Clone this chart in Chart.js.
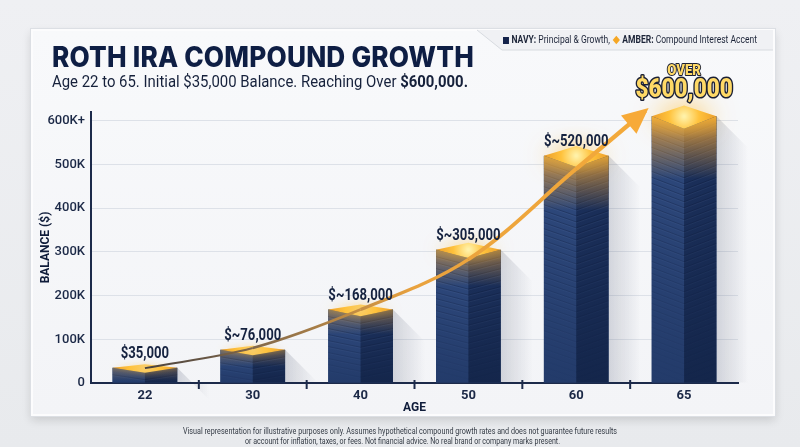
<!DOCTYPE html>
<html><head><meta charset="utf-8">
<script src="https://cdn.jsdelivr.net/npm/chart.js@4.4.1/dist/chart.umd.min.js"></script>
<style>
html,body{margin:0;padding:0;}
body{width:800px;height:447px;overflow:hidden;position:relative;background:linear-gradient(180deg,#eff0f3 0%,#e8eaed 100%);font-family:Roboto,"Noto Sans",sans-serif;}
.card{position:absolute;left:31px;top:29px;width:744px;height:387px;background:linear-gradient(180deg,#f8f9fb 0%,#f3f4f7 100%);border:2px solid #fcfcfd;box-sizing:border-box;box-shadow:0 0 0 1px #dcdfe4,0 4px 9px rgba(0,0,0,.14);}
svg.tab{position:absolute;left:0;top:0;z-index:1;}
canvas#c{position:absolute;left:0;top:0;z-index:2;}
.t{position:absolute;white-space:nowrap;display:inline-block;transform-origin:0 0;z-index:3;}
#title{left:52px;top:43px;font:800 28px/28px Inter,Roboto,sans-serif;color:#0e1e44;letter-spacing:0.2px;}
#sub{left:52px;top:73px;font:400 17px/17px Roboto,sans-serif;color:#16213b;}
#sub b{font-weight:700;}
#legend{left:503px;top:34px;font:400 10px/12px Roboto,sans-serif;color:#1c2438;}
#legend b{font-weight:700;}
.sq{display:inline-block;width:7px;height:7px;background:#13224a;margin-right:3px;vertical-align:-0.5px;}
.dia{display:inline-block;width:6px;height:6px;background:#f5a623;transform:rotate(45deg);margin:0 4px 0 2px;vertical-align:0px;}
.foot{font:400 9.5px/11px Roboto,sans-serif;color:#333a44;}
#f1{left:183px;top:425px;}
#f2{left:245px;top:434.5px;}
</style></head>
<body>
<div class="card"></div>
<svg class="tab" width="800" height="447"><polygon points="477,30 773,30 773,50 502,50" fill="#f0f1f4"/><polyline points="477,30 502,50 773,50" fill="none" stroke="#d8dbe0" stroke-width="1"/></svg>
<canvas id="c" width="800" height="447"></canvas>
<div class="t" id="title" data-w="422">ROTH IRA COMPOUND GROWTH</div>
<div class="t" id="sub" data-w="416">Age 22 to 65. Initial $35,000 Balance. Reaching Over <b>$600,000.</b></div>
<div class="t" id="legend" data-w="254"><span class="sq"></span><b>NAVY:</b> Principal &amp; Growth, <span class="dia"></span><b>AMBER:</b> Compound Interest Accent</div>
<div class="t foot" id="f1" data-w="434">Visual representation for illustrative purposes only. Assumes hypothetical compound growth rates and does not guarantee future results</div>
<div class="t foot" id="f2" data-w="315">or account for inflation, taxes, or fees. Not financial advice. No real brand or company marks present.</div>
<script>
// ---- data ----
const ages = ['22', '30', '40', '50', '60', '65'];
const balances = [35000, 76000, 168000, 305000, 520000, 610000];
const balanceLabels = ['$35,000', '$~76,000', '$~168,000', '$~305,000', '$~520,000', ''];
const trendPositions = [0, 1, 2, 3, 4, 4.65];
const trendValues = [34000, 80000, 168000, 283000, 490000, 625000];
const yTicks = [0, 100000, 200000, 300000, 400000, 500000, 600000];
const yTickLabels = ['0', '100K', '200K', '300K', '400K', '500K', '600K+'];
const yMax = 620000;
const highlightLine1 = 'OVER';
const highlightLine2 = '$600,000';
const xTitle = 'AGE';
const yTitle = 'BALANCE ($)';

function fitTexts(){
  document.querySelectorAll('[data-w]').forEach(el=>{
    el.style.transform='none';
    const w = el.getBoundingClientRect().width;
    el.style.transform = 'scaleX(' + (+el.dataset.w / w) + ')';
  });
}

function scaledText(ctx, text, x, y, sx, stroke){
  ctx.save();
  ctx.translate(x, y);
  ctx.scale(sx, 1);
  if (stroke) ctx.strokeText(text, 0, 0);
  ctx.fillText(text, 0, 0);
  ctx.restore();
}

const navy = '#1c2a4a';

const boxPlugin = {
  id: 'boxes',
  beforeDatasetsDraw(chart){
    const ctx = chart.ctx;
    const meta = chart.getDatasetMeta(0);
    meta.data.forEach(bar=>{
      const xr = bar.x + bar.width/2, y = bar.y, base = bar.base;
      const g = ctx.createLinearGradient(xr, 0, xr + 32, 0);
      g.addColorStop(0, 'rgba(30,40,70,0.16)');
      g.addColorStop(1, 'rgba(30,40,70,0)');
      ctx.save();
      ctx.fillStyle = g;
      ctx.beginPath();
      ctx.moveTo(xr, y);
      ctx.lineTo(xr + 32, y + 32);
      ctx.lineTo(xr + 32, base);
      ctx.lineTo(xr, base);
      ctx.closePath();
      ctx.fill();
      ctx.restore();
    });
  },
  afterDatasetDraw(chart, args){
    if (args.index !== 0) return;
    const ctx = chart.ctx, area = chart.chartArea;
    args.meta.data.forEach(bar=>{
      const xl = bar.x - bar.width/2, xr = bar.x + bar.width/2, xc = bar.x;
      const y = bar.y, base = bar.base;
      const frac = (base - y) / area.height;
      const h1 = 3 + 8*frac, h2 = h1 + 1.5;
      ctx.save();
      // left face
      let g = ctx.createLinearGradient(0, y, 0, base);
      g.addColorStop(0, '#2f4a7e'); g.addColorStop(1, '#233b6a');
      ctx.fillStyle = g;
      ctx.beginPath(); ctx.moveTo(xl, y); ctx.lineTo(xc, y + h2); ctx.lineTo(xc, base); ctx.lineTo(xl, base); ctx.closePath(); ctx.fill();
      // right face
      g = ctx.createLinearGradient(0, y, 0, base);
      g.addColorStop(0, '#1c315d'); g.addColorStop(1, '#14264b');
      ctx.fillStyle = g;
      ctx.beginPath(); ctx.moveTo(xc, y + h2); ctx.lineTo(xr, y); ctx.lineTo(xr, base); ctx.lineTo(xc, base); ctx.closePath(); ctx.fill();
      // slab stripes
      ctx.lineWidth = 1;
      const span = base - y;
      for (let yy = y + 7; yy < base - 6; yy += 6){
        const t = (yy - y) / span;
        ctx.strokeStyle = 'rgba(8,18,45,' + (0.35 * (1 - t)) + ')';
        ctx.beginPath(); ctx.moveTo(xl, yy); ctx.lineTo(xc, yy + h2); ctx.lineTo(xr, yy); ctx.stroke();
        ctx.strokeStyle = 'rgba(150,175,225,' + (0.10 * (1 - t)) + ')';
        ctx.beginPath(); ctx.moveTo(xl, yy + 1); ctx.lineTo(xc, yy + 1 + h2); ctx.lineTo(xr, yy + 1); ctx.stroke();
      }
      // gold tint near top
      const d = 6 + 45*frac;
      g = ctx.createLinearGradient(0, y, 0, y + h2 + d);
      g.addColorStop(0, 'rgba(255,178,45,' + (0.3 + 0.65*frac) + ')');
      g.addColorStop(0.35, 'rgba(240,160,50,' + (0.15 + 0.4*frac) + ')');
      g.addColorStop(1, 'rgba(255,176,50,0)');
      ctx.fillStyle = g;
      ctx.beginPath(); ctx.moveTo(xl, y); ctx.lineTo(xc, y + h2); ctx.lineTo(xr, y); ctx.lineTo(xr, y + h2 + d); ctx.lineTo(xl, y + h2 + d); ctx.closePath(); ctx.fill();
      // top face
      ctx.shadowColor = 'rgba(255,190,60,' + (0.35 + 0.6*frac) + ')';
      ctx.shadowBlur = 5 + 22*frac;
      g = ctx.createRadialGradient(xc, y, 1, xc, y, bar.width/2);
      g.addColorStop(0, frac > 0.3 ? '#fff1a8' : '#f9cc66');
      g.addColorStop(0.45, '#ffc23c');
      g.addColorStop(1, '#ec9e2a');
      ctx.fillStyle = g;
      ctx.beginPath(); ctx.moveTo(xl, y); ctx.lineTo(xc, y - h1); ctx.lineTo(xr, y); ctx.lineTo(xc, y + h2); ctx.closePath(); ctx.fill();
      ctx.restore();
    });
  },
  afterDatasetsDraw(chart){
    const ctx = chart.ctx;
    const xs = chart.scales.x;
    // x tick marks between categories
    ctx.save();
    ctx.strokeStyle = navy; ctx.lineWidth = 2;
    for (let i = 1; i < ages.length; i++){
      const px = xs.getPixelForValue(i - 0.5);
      ctx.beginPath(); ctx.moveTo(px, xs.top - 3); ctx.lineTo(px, xs.top + 6); ctx.stroke();
    }
    ctx.restore();
    // arrowhead
    const lm = chart.getDatasetMeta(1);
    const p = lm.data[lm.data.length - 1];
    const q = lm.data[lm.data.length - 2];
    let dx = p.x - (p.cp1x ?? q.x), dy = p.y - (p.cp1y ?? q.y);
    if (Math.abs(dx) + Math.abs(dy) < 1){ dx = p.x - q.x; dy = p.y - q.y; }
    const a = Math.atan2(dy, dx);
    ctx.save();
    ctx.translate(p.x, p.y); ctx.rotate(a);
    ctx.fillStyle = '#f7aa38';
    ctx.beginPath(); ctx.moveTo(3, 0); ctx.lineTo(-23, -12); ctx.lineTo(-23, 12); ctx.closePath(); ctx.fill();
    ctx.restore();
    // value labels
    const bm = chart.getDatasetMeta(0);
    ctx.save();
    ctx.font = 'bold 16px Roboto';
    ctx.fillStyle = '#15223f';
    ctx.textAlign = 'center'; ctx.textBaseline = 'middle';
    bm.data.forEach((bar, i)=>{
      if (balanceLabels[i]) scaledText(ctx, balanceLabels[i], bar.x, bar.y - 14, 0.82);
    });
    // highlight
    const last = bm.data[bm.data.length - 1];
    ctx.strokeStyle = '#1b2035'; ctx.lineJoin = 'round';
    ctx.font = '900 15px Roboto';
    let g = ctx.createLinearGradient(0, last.y - 52, 0, last.y - 38);
    g.addColorStop(0, '#ffd966'); g.addColorStop(1, '#f0a224');
    ctx.fillStyle = g; ctx.lineWidth = 2;
    scaledText(ctx, highlightLine1, last.x, last.y - 45, 0.88, true);
    ctx.font = '900 25px Roboto';
    g = ctx.createLinearGradient(0, last.y - 37, 0, last.y - 15);
    g.addColorStop(0, '#ffd966'); g.addColorStop(1, '#f0a224');
    ctx.fillStyle = g; ctx.lineWidth = 3;
    scaledText(ctx, highlightLine2, last.x, last.y - 26, 0.9, true);
    ctx.restore();
  }
};

function build(){
  fitTexts();
  const ctx = document.getElementById('c').getContext('2d');
  new Chart(ctx, {
    type: 'bar',
    data: {
      datasets: [
        {
          type: 'bar',
          label: 'Balance',
          data: ages.map((a, i) => ({ x: i, y: balances[i] })),
          backgroundColor: '#243d6b',
          borderWidth: 0,
          grouped: false,
          barPercentage: 0.6,
          categoryPercentage: 1.0,
          order: 2
        },
        {
          type: 'line',
          label: 'Compound interest',
          data: trendPositions.map((x, i) => ({ x: x, y: trendValues[i] })),
          borderColor: (c) => {
            const a = c.chart.chartArea;
            if (!a) return '#f5a93a';
            const g = c.chart.ctx.createLinearGradient(a.left, 0, a.right, 0);
            g.addColorStop(0.05, '#3d3a3c');
            g.addColorStop(0.28, '#8a6d4a');
            g.addColorStop(0.5, '#e9a23e');
            g.addColorStop(1, '#f8ad38');
            return g;
          },
          segment: { borderWidth: (s) => 2 + 0.6 * s.p0DataIndex },
          borderWidth: 3,
          pointRadius: 0,
          tension: 0.35,
          fill: false,
          order: 1
        }
      ]
    },
    options: {
      responsive: false,
      animation: false,
      devicePixelRatio: 1,
      layout: { padding: { left: 0, top: 112, right: 62, bottom: 24 } },
      plugins: { legend: { display: false }, tooltip: { enabled: false } },
      scales: {
        x: {
          type: 'linear',
          min: -0.5, max: 5.5,
          offset: false,
          afterBuildTicks: (s) => { s.ticks = ages.map((a, i) => ({ value: i })); },
          grid: { display: false, drawTicks: false },
          border: { display: true, color: navy, width: 2 },
          ticks: { callback: (v) => ages[v], color: '#1b2846', font: { family: 'Roboto', size: 13, weight: 'bold' }, padding: 5, autoSkip: false, maxRotation: 0 },
          title: { display: true, text: xTitle, color: '#0f1c3a', font: { family: 'Roboto', size: 12, weight: 'bold' }, padding: { top: 0, bottom: 8 } },
          afterFit: (s) => { s.height = 40; }
        },
        y: {
          min: 0, max: yMax,
          afterBuildTicks: (s) => { s.ticks = yTicks.map(v => ({ value: v })); },
          ticks: { callback: (v) => yTickLabels[yTicks.indexOf(v)], color: '#1b2846', font: { family: 'Roboto', size: 13, weight: '500' }, padding: 6 },
          grid: { color: (c) => (c.tick && c.tick.value === 0) ? 'rgba(0,0,0,0)' : '#dde1e8', lineWidth: 1, drawTicks: false },
          border: { display: true, color: navy, width: 2 },
          title: { display: true, text: yTitle, color: '#0f1c3a', font: { family: 'Roboto', size: 12, weight: 'bold' }, padding: { top: 39, bottom: 0 } },
          afterFit: (s) => { s.width = 91; }
        }
      }
    },
    plugins: [boxPlugin]
  });
}
if (document.fonts && document.fonts.ready) document.fonts.ready.then(build); else build();
</script>
</body></html>
